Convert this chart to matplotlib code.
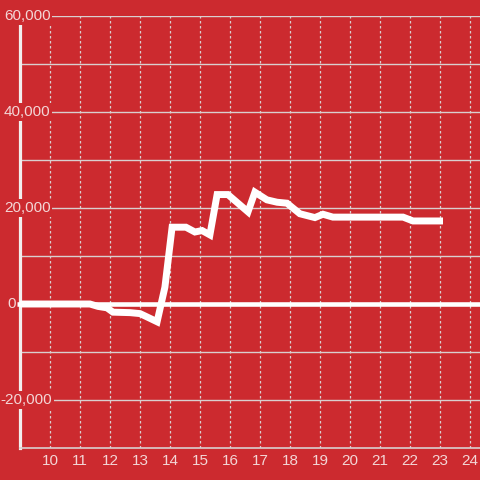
import numpy as np
import matplotlib
matplotlib.use("Agg")
import matplotlib.pyplot as plt

# hours of the day and running value
hours = [9.0, 11.33, 11.6, 11.9, 12.1, 12.67, 13.0, 13.17, 13.57, 13.83,
         14.07, 14.53, 14.83, 15.07, 15.33, 15.57, 15.93, 16.6, 16.83,
         17.23, 17.57, 17.9, 18.33, 18.83, 19.1, 19.43, 21.77, 22.1, 23.1]
values = [0, 0, -500, -800, -1700, -1800, -2000, -2500, -3700, 3500,
          16000, 16000, 15000, 15300, 14400, 22800, 22800, 19200, 23300,
          21700, 21200, 21000, 18800, 18000, 18700, 18100, 18100, 17300, 17300]

x_ticks = list(range(10, 25))
y_ticks = [-20000, 0, 20000, 40000, 60000]

bg = "#cc2a2f"
txt = "#f3d6d6"
grid = "#d9cfcf"

plt.rcParams["font.family"] = ["Liberation Sans", "DejaVu Sans"]

fig = plt.figure(figsize=(4.8, 4.8), dpi=100)
fig.patch.set_facecolor(bg)
ax = fig.add_axes([20 / 480, 32 / 480, 460 / 480, 432 / 480])
ax.set_facecolor(bg)
ax.set_xlim(9, 9 + 460 / 30)
ax.set_ylim(-30000, 60000)

# horizontal grid
for y in range(-20000, 60001, 10000):
    if y == 0:
        continue
    ax.axhline(y, color=grid, lw=1, zorder=1)
ax.plot([8.9, 9 + 460 / 30], [0, 0], color="white", lw=3.3, zorder=3,
        clip_on=False, solid_capstyle="butt")

# vertical dotted grid
for x in x_ticks:
    ax.axvline(x, color=grid, lw=0.9, ls=(0, (2, 2)), zorder=1)

ax.plot(hours, values, color="white", lw=5, solid_joinstyle="miter",
        solid_capstyle="butt", zorder=4)

for s in ["top", "right"]:
    ax.spines[s].set_visible(False)
ax.spines["left"].set_color("#f2eeee")
ax.spines["left"].set_linewidth(2.3)
ax.spines["left"].set_zorder(2.5)
ax.spines["bottom"].set_color(grid)
ax.spines["bottom"].set_linewidth(1.2)
ax.set_xticks([])
ax.set_yticks([])

for y in y_ticks:
    if y == 0:
        ax.text(8.86, y, "0", ha="right", va="center", fontsize=11,
                color=txt, zorder=6, clip_on=False)
        continue
    xr = 10.07 if y < 0 else 10.02
    ax.text(xr, y, "{:,}".format(y), ha="right", va="center", fontsize=11,
            color=txt, zorder=6, clip_on=False,
            bbox=dict(facecolor=bg, edgecolor="none", pad=1.2))

for x in x_ticks:
    ax.text(x, -32700, str(x), ha="center", va="center", fontsize=11,
            color=txt, clip_on=False)

plt.savefig("out.png", dpi=100, facecolor=bg)
